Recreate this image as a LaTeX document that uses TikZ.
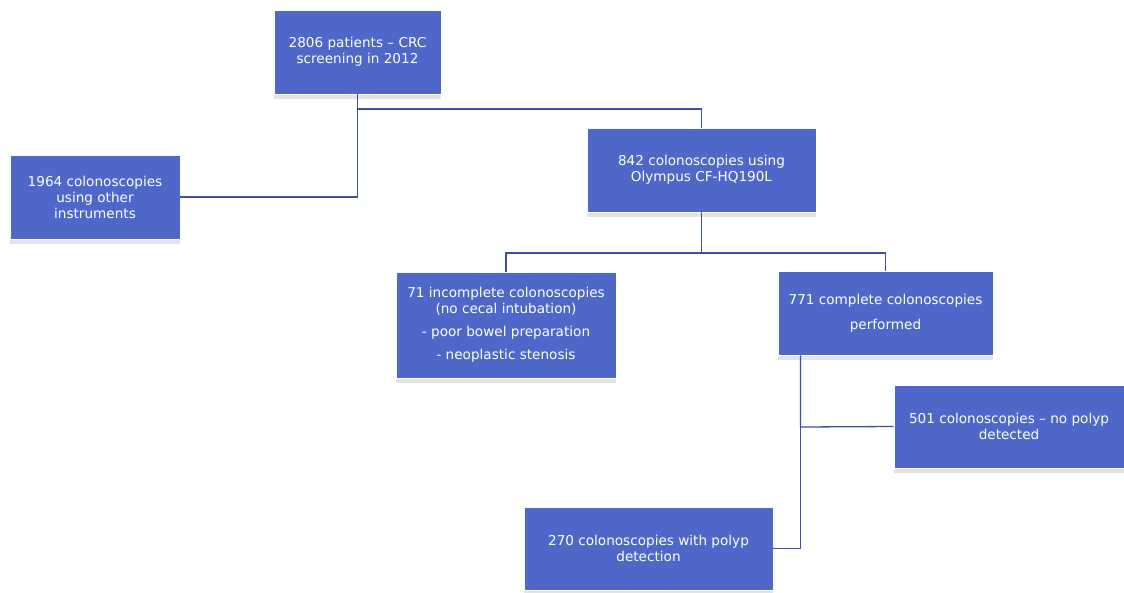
\documentclass[tikz,border=0pt]{standalone}
\usepackage{fontspec}
\setmainfont{DejaVu Sans}
\usetikzlibrary{shadows}
\definecolor{boxblue}{HTML}{4F67C8}
\definecolor{lineblue}{HTML}{3B4FA8}
\begin{document}
\begin{tikzpicture}[x=1pt,y=-1pt,
  box/.style={draw=white, line width=0.8pt, fill=boxblue, text=white, align=center,
    font=\fontsize{13.6}{16}\selectfont, inner sep=0pt,
    drop shadow={shadow xshift=0pt, shadow yshift=-5pt, opacity=0.22, fill=gray}},
  link/.style={draw=lineblue, line width=1.3pt}]
  \useasboundingbox [fill=white] (0,0) rectangle (1124,592);
  % boxes
  \node [box, minimum width=167, minimum height=84] (screen) at (357.5,52)
    {2806 patients -- CRC\\screening in 2012};
  \node [box, minimum width=170, minimum height=84] (other) at (95,197)
    {1964 colonoscopies\\using other\\instruments};
  \node [box, minimum width=229, minimum height=84] (olympus) at (701.5,170)
    {842 colonoscopies using\\Olympus CF-HQ190L};
  \node [box, minimum width=220, minimum height=106] (incomplete) at (506,325)
    {71 incomplete colonoscopies\\(no cecal intubation)\\[7pt]
     - poor bowel preparation\\[7pt] - neoplastic stenosis};
  \node [box, minimum width=215, minimum height=84] (complete) at (885.5,313)
    {771 complete colonoscopies\\[9pt]performed};
  \node [box, minimum width=230, minimum height=83] (nopolyp) at (1009,426.5)
    {501 colonoscopies -- no polyp\\detected};
  \node [box, minimum width=249, minimum height=83] (polyp) at (648.5,548.5)
    {270 colonoscopies with polyp\\detection};
  % connectors
  \coordinate (split1) at (357.5,109);
  \coordinate (split2) at (701.5,253);
  \coordinate (split3) at (800.5,427);
  \draw [link] (screen.south) -- (split1) -| (olympus.north);
  \draw [link] (split1) |- (other.east);
  \draw [link] (olympus.south) -- (split2);
  \draw [link] (incomplete.north) |- (split2) -| (complete.north);
  \draw [link] (split3 |- complete.south) -- (split3) -- (nopolyp.west);
  \draw [link] (split3) |- (polyp.east);
\end{tikzpicture}
\end{document}
